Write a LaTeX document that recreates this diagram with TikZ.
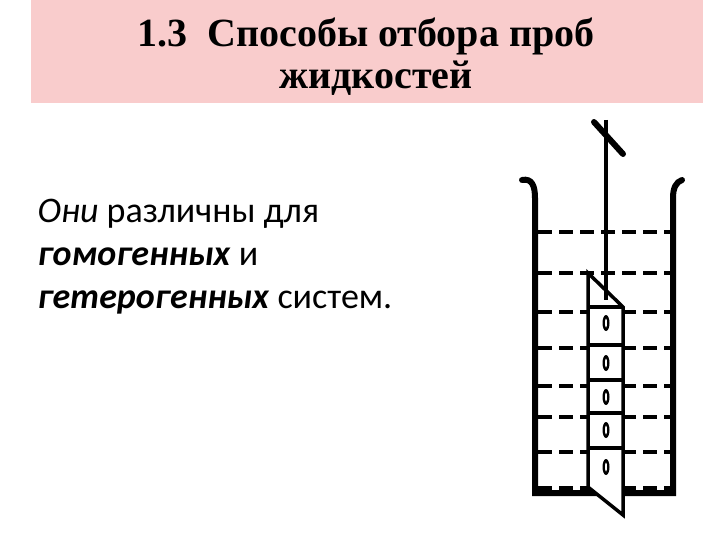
\documentclass[tikz,border=0pt]{standalone}
\usepackage{fontspec}
\setmainfont{Liberation Serif}
\newfontfamily\bodyfont{Carlito}
\definecolor{pinkbg}{HTML}{F9CCCC}
\begin{document}
\begin{tikzpicture}[x=1pt,y=-1pt,
  wall/.style={line width=6pt,line cap=round},
  thick1/.style={line width=3.5pt},
  dash1/.style={line width=4pt,dash pattern=on 14pt off 7pt},
  ttl/.style={font=\bfseries\fontsize{40}{42}\selectfont,align=center},
  body/.style={font=\bodyfont\fontsize{36}{43}\selectfont,align=left,anchor=north west}]
\useasboundingbox (0,0) rectangle (720,540);
\fill[white] (0,0) rectangle (720,540);
\fill[pinkbg] (31,0) rectangle (703,103);
\node[ttl] (t) at (366,57) {1.3\ \ Способы отбора проб\\\hspace*{0.5em}жидкостей};
\node[body] (b) at (34,196) {\textit{Они} различны для\\\textbf{\textit{гомогенных}} и\\\textbf{\textit{гетерогенных}} систем.};
% dashed liquid levels
\foreach \yy in {232,273,312,348,386,417,452,488}
  \draw[dash1] (538,\yy) -- (672,\yy);
% beaker
\draw[wall] (522,180) .. controls (532,178) and (535,186) .. (535,198) -- (535,493) -- (673,493) -- (673,198) .. controls (673,188) and (676,182) .. (682,180);
% rod
\draw[thick1] (606,120) -- (606,300);
\draw[wall] (594,122) -- (623,154);
% sampler
\fill[white] (588,273) -- (623,307) -- (623,515) -- (588,487) -- cycle;
\draw[thick1] (588,273) -- (623,307) -- (623,515) -- (588,487) -- cycle;
\draw[thick1] (606,273) -- (606,300);
\foreach \yy in {307,345,380,413,448} \draw[thick1] (588,\yy) -- (623,\yy);
\foreach \yy in {323,363,397,430,467} {\fill (606,\yy) ellipse (3.5pt and 8pt);
  \fill[white] (606,\yy) ellipse (1pt and 4.5pt);}
\end{tikzpicture}
\end{document}
